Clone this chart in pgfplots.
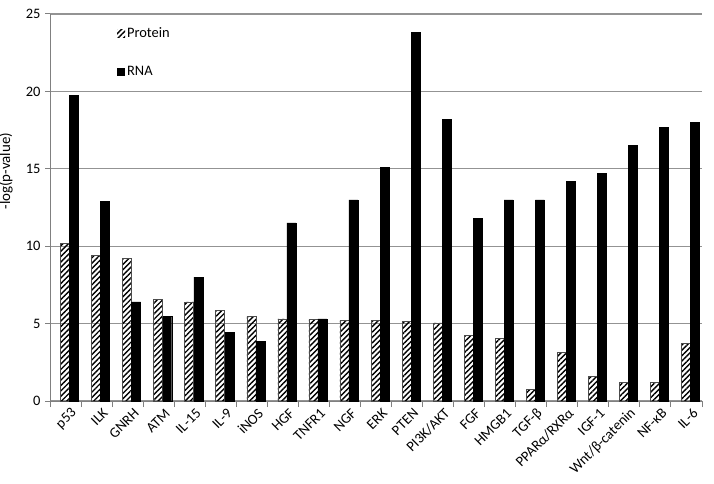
\documentclass[border=0pt]{standalone}
\usepackage{pgfplots}
\pgfplotsset{compat=1.18}
\usepackage{pgfplotstable}
\usepackage{fontspec}
\setmainfont{Carlito}
\usetikzlibrary{patterns,patterns.meta}
\pgfplotstableread{
idx protein rna
0 10.2 19.75
1 9.4 12.9
2 9.2 6.4
3 6.55 5.45
4 6.4 8.0
5 5.85 4.45
6 5.45 3.85
7 5.3 11.5
8 5.25 5.3
9 5.2 13.0
10 5.2 15.1
11 5.15 23.8
12 5.05 18.2
13 4.25 11.8
14 4.05 13.0
15 0.75 13.0
16 3.15 14.2
17 1.6 14.7
18 1.2 16.5
19 1.2 17.7
20 3.7 18.0
}\datatable
\begin{document}
\begin{tikzpicture}
\begin{axis}[
  at={(0,0)}, anchor=south west,
  scale only axis, width=652bp, height=387bp,
  ymin=0, ymax=25, ytick={0,5,...,25},
  xmin=-0.63, xmax=20.37,
  xtick={0,...,20},
  xticklabels={p53,ILK,GNRH,ATM,IL-15,IL-9,iNOS,HGF,TNFR1,NGF,ERK,PTEN,PI3K/AKT,FGF,HMGB1,TGF-β,PPARα/RXRα,IGF-1,Wnt/β-catenin,NF-κB,IL-6},
  minor xtick={-0.63,0.37,...,20.4},
  major x tick style={draw=none},
  minor x tick style={draw=gray, line width=1bp},
  minor tick length=6bp,
  major tick length=5bp,
  tick align=outside,
  y tick style={draw=gray, line width=1bp},
  ybar=0pt, bar width=9bp,
  axis lines*=left,
  axis line style={gray, line width=1bp},
  ymajorgrids, grid style={gray!85, line width=1.1bp},
  /pgf/number format/assume math mode=true,
  tick label style={font=\fontsize{14.5}{16}\selectfont},
  yticklabel style={xshift=-1bp},
  xticklabel style={rotate=45, anchor=east, inner sep=1bp, yshift=-7bp, xshift=1bp},
  ylabel={-log(p-value)},
  ylabel style={font=\fontsize{15}{17}\selectfont, at={(axis description cs:-0.052,0.594)}, anchor=south, rotate=0},
  legend style={at={(0.098,0.975)}, anchor=north west, draw=none, fill=none,
    font=\fontsize{14.5}{16}\selectfont, row sep=23bp},
  legend cell align=left,
  legend image code/.code={\path[#1, draw=none] (0bp,-4bp) rectangle (8bp,4bp);},
  clip=false,
]
\addplot[pattern={Lines[angle=45,distance=3.8bp,line width=1.4bp]}, draw=gray!60!black, line width=0.6bp] table[x=idx,y=protein]{\datatable};
\addlegendentry{Protein}
\addplot[fill=black, draw=black] table[x=idx,y=rna]{\datatable};
\addlegendentry{RNA}
\end{axis}
\pgfresetboundingbox
\path[use as bounding box] (-50bp,-83bp) rectangle (664bp,401bp);
\end{tikzpicture}
\end{document}
